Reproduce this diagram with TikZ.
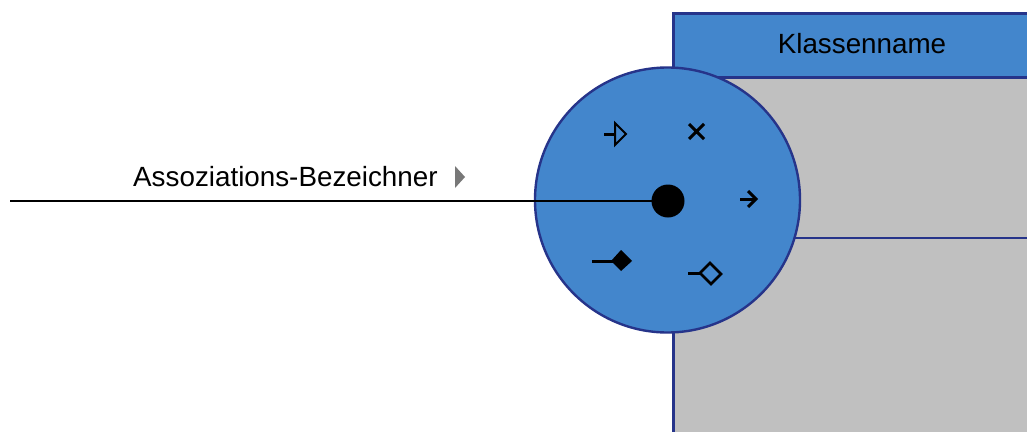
\documentclass[tikz,border=0pt]{standalone}
\usepackage{fontspec}
\setmainfont{Liberation Sans}
\definecolor{umlblue}{RGB}{67,134,204}
\definecolor{umlnavy}{RGB}{38,52,138}
\definecolor{umlgray}{RGB}{192,192,192}
\definecolor{hintgray}{RGB}{120,120,120}
\begin{document}
\begin{tikzpicture}[x=1pt,y=-1pt,
  lbl/.style={font=\fontsize{27.8}{32}\selectfont, inner sep=0pt, text=black},
  icon/.style={line width=3pt, black},
  border/.style={draw=umlnavy, line width=3pt}]
\clip (0,0) rectangle (1027,431);
\fill[white] (0,0) rectangle (1027,431);
% class box: header and compartments
\path[fill=umlgray, border] (673,13) rectangle (1045,450);
\path[fill=umlblue, border] (673,13) rectangle (1045,77);
\draw[umlnavy, line width=2.4pt] (673,238) -- (1045,238);
\node[lbl] (cname) at (862,44) {Klassenname};
% radial menu
\node[circle, fill=umlblue, draw=umlnavy, line width=2.4pt, minimum size=265pt, inner sep=0pt] (menu) at (667.5,200) {};
% association line with its label
\coordinate (start) at (10,201);
\node[circle, fill=black, minimum size=33pt, inner sep=0pt] (dot) at (668,201) {};
\draw[line width=2.8pt] (start) -- (dot.center);
\node[lbl, anchor=base west] (name) at (133,186) {Assoziations-Bezeichner};
\fill[hintgray] (455,166) -- (465,177) -- (455,188) -- cycle;
% generalization
\draw[icon] (604,134) -- (615,134);
\draw[line width=2pt, line join=miter] (615,123) -- (626,134) -- (615,145) -- cycle;
% not navigable
\draw[icon] (689,124) -- (704,139) (689,139) -- (704,124);
% navigable
\draw[icon] (740,199) -- (756,199);
\draw[icon, line join=miter] (748,191) -- (756,199) -- (748,207);
% composition
\draw[icon] (592,261) -- (613,261);
\fill[black] (611,261) -- (621,250) -- (632,261) -- (621,271) -- cycle;
% aggregation
\draw[icon] (688,273) -- (701,273);
\draw[line width=2.8pt, line join=miter] (700,273) -- (710,263) -- (721,274) -- (711,284) -- cycle;
\end{tikzpicture}
\end{document}
